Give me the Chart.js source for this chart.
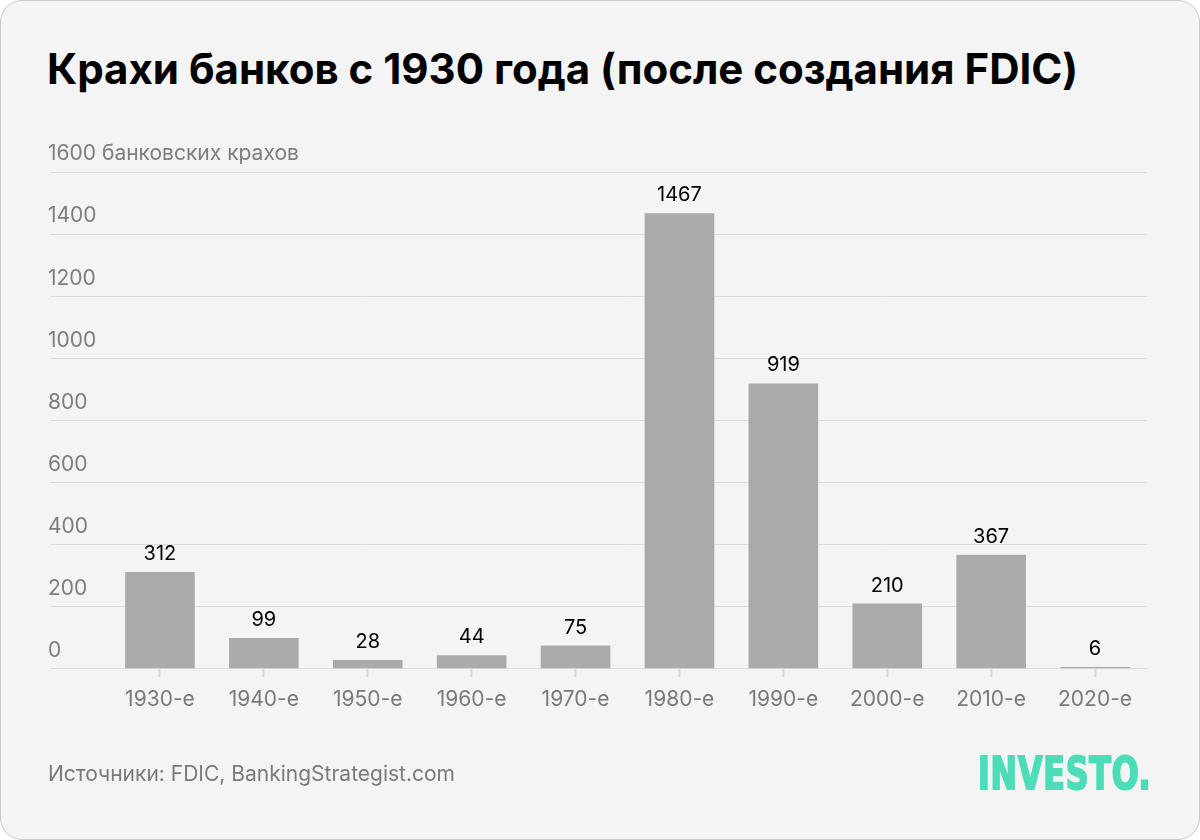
<!DOCTYPE html>
<html>
<head>
<meta charset="utf-8">
<script src="https://cdn.jsdelivr.net/npm/chart.js@4"></script>
<style>
  body { margin: 0; background: #fff; width: 1200px; height: 840px; overflow: hidden; }
  .card {
    position: absolute; left: 0; top: 0; width: 1198px; height: 838px;
    background: #f4f4f4; border: 1px solid #c8c8c8; border-radius: 22px;
  }
  canvas { position: absolute; left: 0; top: 0; }
  .title {
    position: absolute; left: 47px; top: 43px; margin: 0;
    font: 700 42px Inter, sans-serif; color: #000; white-space: nowrap;
  }
  .source {
    position: absolute; left: 48px; top: 761px;
    font: 400 21px Inter, sans-serif; color: #7a7a7a;
  }
  .logo {
    position: absolute; left: 978px; top: 748px;
    font: 800 44px "Liberation Sans Narrow", "DejaVu Sans Condensed", sans-serif;
    color: #4ddcb8; letter-spacing: 1px;
    -webkit-text-stroke: 2px #4ddcb8;
    transform: scaleX(0.8); transform-origin: left top;
  }
</style>
</head>
<body>
<div class="card"></div>
<h1 class="title">Крахи банков с 1930 года (после создания FDIC)</h1>
<canvas id="chart" width="1200" height="840"></canvas>
<div class="source">Источники: FDIC, BankingStrategist.com</div>
<div class="logo">INVESTO.</div>
<script>
const decades = ['1930-е', '1940-е', '1950-е', '1960-е', '1970-е', '1980-е', '1990-е', '2000-е', '2010-е', '2020-е'];
const failures = [312, 99, 28, 44, 75, 1467, 919, 210, 367, 6];
const yMax = 1600;
const yStep = 200;
const yUnit = 'банковских крахов';

// y labels sit above their gridline, left aligned
const yLabels = {
  id: 'yLabels',
  afterDraw(chart) {
    const ctx = chart.ctx;
    const y = chart.scales.y;
    ctx.save();
    ctx.font = '400 21px Inter, sans-serif';
    ctx.fillStyle = '#7d7d7d';
    ctx.textAlign = 'left';
    ctx.textBaseline = 'middle';
    y.ticks.forEach(t => {
      const py = y.getPixelForValue(t.value);
      const text = t.value === yMax ? `${t.value} ${yUnit}` : String(t.value);
      ctx.fillText(text, 48, py - 18);
    });
    ctx.restore();
  }
};

// value labels above bars
const barValues = {
  id: 'barValues',
  afterDatasetsDraw(chart) {
    const ctx = chart.ctx;
    const meta = chart.getDatasetMeta(0);
    ctx.save();
    ctx.font = '400 20px Inter, sans-serif';
    ctx.fillStyle = '#000';
    ctx.textAlign = 'center';
    ctx.textBaseline = 'middle';
    meta.data.forEach((bar, i) => {
      ctx.fillText(String(failures[i]), bar.x, bar.y - 18);
    });
    ctx.restore();
  }
};

new Chart(document.getElementById('chart'), {
  type: 'bar',
  data: {
    labels: decades,
    datasets: [{
      data: failures,
      backgroundColor: '#aaaaaa',
      borderWidth: 0,
      barPercentage: 0.67,
      categoryPercentage: 1
    }]
  },
  options: {
    responsive: false,
    animation: false,
    layout: { padding: { left: 50, right: 53, top: 172, bottom: 118 } },
    plugins: { legend: { display: false }, tooltip: { enabled: false } },
    scales: {
      x: {
        grid: { display: true, drawOnChartArea: false, offset: false, tickLength: 8, color: '#d6d6d6', tickWidth: 2 },
        border: { display: true, color: '#dcdcdc' },
        ticks: { color: '#7a7a7a', font: { family: 'Inter', size: 21 }, padding: 10 }
      },
      y: {
        min: 0,
        max: yMax,
        grid: { color: '#dcdcdc', tickLength: 58, drawTicks: true },
        border: { display: false },
        ticks: { display: false, stepSize: yStep }
      }
    }
  },
  plugins: [yLabels, barValues]
});
</script>
</body>
</html>
